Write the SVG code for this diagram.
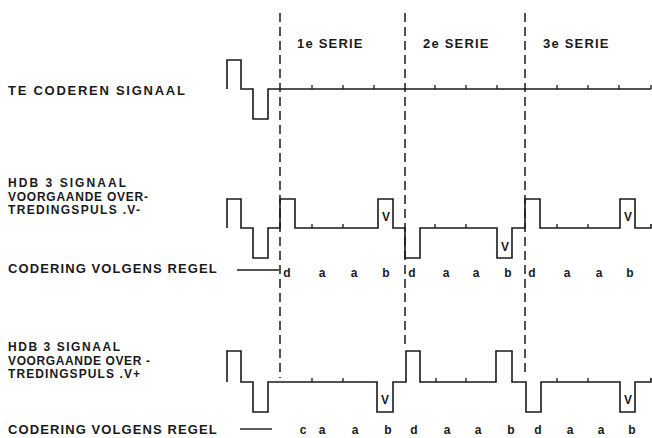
<svg xmlns="http://www.w3.org/2000/svg" width="652" height="438" viewBox="0 0 652 438">
<style>
.sig{fill:none;stroke:#1a1a1a;stroke-width:1.6;stroke-linejoin:miter}
.tick{fill:none;stroke:#1a1a1a;stroke-width:1.3}
.dash{fill:none;stroke:#1a1a1a;stroke-width:1.5;stroke-dasharray:9 5}
.rule{fill:none;stroke:#1a1a1a;stroke-width:1.4}
text{font-family:"Liberation Sans",Arial,sans-serif;font-weight:bold;fill:#1a1a1a}
.lbl{font-size:13px;letter-spacing:1.1px}
.sm{font-size:12px}
.ser{font-size:13px;letter-spacing:1.2px}
.bit{font-size:12px;text-anchor:middle}
.v{font-size:12px;text-anchor:middle}
</style>
<rect width="652" height="438" fill="#fff"/>

<g id="dividers">
<line class="dash" x1="280" y1="13" x2="280" y2="378"/>
<line class="dash" x1="405" y1="13" x2="405" y2="345"/>
<line class="dash" x1="525" y1="13" x2="525" y2="372"/>
</g>

<g id="series-labels">
<text class="ser" x="297" y="48">1e SERIE</text>
<text class="ser" x="423" y="48">2e SERIE</text>
<text class="ser" x="543" y="48">3e SERIE</text>
</g>

<g id="row1">
<text class="lbl" x="8" y="95" textLength="178">TE CODEREN SIGNAAL</text>
<path class="sig" d="M227 89V60H241V89H253V119H268V89H651"/>
<path class="tick" d="M312 89v-4M343 89v-4M374 89v-4M435 89v-4M466 89v-4M497 89v-4M557 89v-4M588 89v-4M619 89v-4M651 89v-4"/>
</g>

<g id="row2">
<text class="sm" x="8" y="187" textLength="118">HDB 3 SIGNAAL</text>
<text class="sm" x="8" y="200.5" textLength="140">VOORGAANDE OVER-</text>
<text class="sm" x="8" y="214" textLength="132">TREDINGSPULS .V-</text>
<text class="lbl" x="8" y="273">CODERING VOLGENS REGEL</text>
<path class="sig" d="M227 228V199H241V228H253V258H268V228H280V199H295V228H378V199H393V228H405V258H420V228H497V258H512V228H525V199H540V228H620V199H635V228H651V224"/>
<path class="tick" d="M312 228v-4M343 228v-4M435 228v-4M466 228v-4M557 228v-4M588 228v-4"/>
<text class="v" x="386" y="221">V</text>
<text class="v" x="505" y="251">V</text>
<text class="v" x="628" y="221">V</text>
<line class="rule" x1="237" y1="270" x2="279" y2="270"/>
<text class="bit" x="287" y="277">d</text>
<text class="bit" x="322" y="277">a</text>
<text class="bit" x="354" y="277">a</text>
<text class="bit" x="386" y="277">b</text>
<text class="bit" x="412" y="277">d</text>
<text class="bit" x="446" y="277">a</text>
<text class="bit" x="476" y="277">a</text>
<text class="bit" x="508" y="277">b</text>
<text class="bit" x="532" y="277">d</text>
<text class="bit" x="567" y="277">a</text>
<text class="bit" x="599" y="277">a</text>
<text class="bit" x="630" y="277">b</text>
</g>

<g id="row3">
<text class="sm" x="8" y="351" textLength="112">HDB 3 SIGNAAL</text>
<text class="sm" x="8" y="364.5" textLength="142">VOORGAANDE OVER -</text>
<text class="sm" x="8" y="378" textLength="132">TREDINGSPULS .V+</text>
<text class="lbl" x="8" y="434">CODERING VOLGENS REGEL</text>
<path class="sig" d="M227 382V351H241V382H253V412H268V382H377V412H393V382H406V351H420V382H496V351H512V382H526V412H541V382H620V412H635V382H651V378"/>
<path class="tick" d="M312 382v-4M343 382v-4M436 382v-4M466 382v-4M557 382v-4M588 382v-4"/>
<text class="v" x="385" y="404">V</text>
<text class="v" x="628" y="404">V</text>
<line class="rule" x1="240" y1="429" x2="272" y2="429"/>
<text class="bit" x="303" y="434">c</text>
<text class="bit" x="322" y="434">a</text>
<text class="bit" x="355" y="434">a</text>
<text class="bit" x="388" y="434">b</text>
<text class="bit" x="414" y="434">d</text>
<text class="bit" x="447" y="434">a</text>
<text class="bit" x="478" y="434">a</text>
<text class="bit" x="511" y="434">b</text>
<text class="bit" x="538" y="434">d</text>
<text class="bit" x="570" y="434">a</text>
<text class="bit" x="601" y="434">a</text>
<text class="bit" x="632" y="434">b</text>
</g>
</svg>
